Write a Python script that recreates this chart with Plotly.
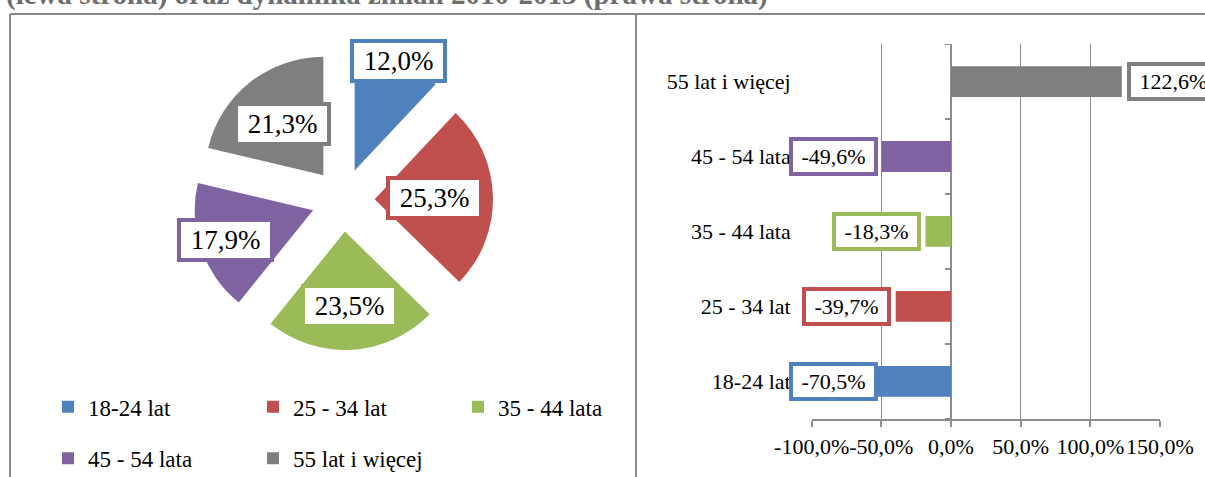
import math
import plotly.graph_objects as go

# dane
grupy = ['18-24 lat', '25 - 34 lat', '35 - 44 lata', '45 - 54 lata', '55 lat i więcej']
udzial = [12.0, 25.3, 23.5, 17.9, 21.3]          # struktura (lewa strona), %
zmiana = [-70.5, -39.7, -18.3, -49.6, 122.6]      # dynamika 2010-2013 (prawa strona), %
kolory = ['#4F81BD', '#C0504D', '#9BBB59', '#8064A2', '#7F7F7F']
x_ticks = [-100, -50, 0, 50, 100, 150]
x_tick_labels = ['-100,0%', '-50,0%', '0,0%', '50,0%', '100,0%', '150,0%']
tytul = '(lewa strona) oraz dynamika zmian 2010-2013 (prawa strona)'

W, H = 1205, 477
FONT = 'Liberation Serif'
GRID = '#8c8c8c'


def pct(v):
    return f'{v:.1f}'.replace('.', ',') + '%'


def px(x, y):
    # piksele -> wspolrzedne papieru
    return x / W, 1 - y / H


fig = go.Figure()

# --- kolo (lewa strona) ---
pull = 0.267
pie_x = (193, 493)
pie_y = (50, 350)
fig.add_trace(go.Pie(
    values=udzial, labels=grupy, sort=False, direction='clockwise', rotation=0,
    marker=dict(colors=kolory), pull=pull, textinfo='none', showlegend=False,
    domain=dict(x=[pie_x[0] / W, pie_x[1] / W], y=[1 - pie_y[1] / H, 1 - pie_y[0] / H]),
))

# etykiety kola liczone z katow wycinkow
cx, cy = (pie_x[0] + pie_x[1]) / 2, (pie_y[0] + pie_y[1]) / 2
R = (pie_x[1] - pie_x[0]) / 2 / (1 + pull)
label_r = [1.0, 0.51, 0.63, 0.78, 0.55]
annotations = []
cum = 0
tot = sum(udzial)
for v, c, k in zip(udzial, kolory, label_r):
    mid = (cum + v / 2) / tot * 2 * math.pi
    cum += v
    r = pull * R + k * R
    ax, ay = px(cx + r * math.sin(mid), cy - r * math.cos(mid))
    annotations.append(dict(
        x=ax, y=ay, xref='paper', yref='paper', xanchor='center', yanchor='middle',
        showarrow=False, text='\u00a0' + pct(v) + '\u00a0',
        font=dict(family=FONT, size=27, color='black'),
        bgcolor='white', bordercolor=c, borderwidth=4, borderpad=3,
    ))

# --- slupki (prawa strona) ---
fig.add_trace(go.Bar(
    x=zmiana, y=grupy, orientation='h', marker=dict(color=kolory, line=dict(width=0)),
    width=0.41, showlegend=False, xaxis='x', yaxis='y',
))

label_floor = -48.8
for v, g, c in zip(zmiana, grupy, kolory):
    neg = v < 0
    annotations.append(dict(
        x=max(v, label_floor) if neg else v, y=g, xref='x', yref='y',
        xanchor='right' if neg else 'left', yanchor='middle', xshift=-5 if neg else 5,
        showarrow=False, text='\u00a0' + pct(v) + '\u00a0',
        font=dict(family=FONT, size=22, color='black'),
        bgcolor='white', bordercolor=c, borderwidth=4, borderpad=3,
    ))

# legenda: dwa wiersze
for i, (g, c) in enumerate(zip(grupy, kolory)):
    fig.add_trace(go.Scatter(
        x=[None], y=[None], mode='markers', name=g,
        marker=dict(symbol='square', size=12, color=c),
        legend='legend' if i < 3 else 'legend2', xaxis='x', yaxis='y',
    ))

# tytul (uciety u gory)
annotations.append(dict(
    x=4 / W, y=1, xref='paper', yref='paper', xanchor='left', yanchor='bottom', yshift=-13,
    showarrow=False, text='<b>' + tytul + '</b>',
    font=dict(family=FONT, size=29, color='#6e6e6e'),
))

# ramki
shapes = [
    dict(type='line', xref='paper', yref='paper', x0=10 / W, x1=1, y0=1 - 14 / H, y1=1 - 14 / H,
         line=dict(color='#888888', width=2)),
    dict(type='line', xref='paper', yref='paper', x0=10 / W, x1=10 / W, y0=0, y1=1 - 14 / H,
         line=dict(color='#888888', width=2)),
    dict(type='line', xref='paper', yref='paper', x0=636 / W, x1=636 / W, y0=0, y1=1 - 14 / H,
         line=dict(color='#888888', width=2)),
]
# kreski podzialu kategorii na osi 0
for i in range(len(grupy) + 1):
    shapes.append(dict(type='line', xref='x', yref='y', xsizemode='pixel', xanchor=0,
                       x0=-6, x1=0, y0=i - 0.5, y1=i - 0.5, line=dict(color=GRID, width=2)))

leg = dict(orientation='h', xanchor='left', yanchor='middle', entrywidth=160,
           entrywidthmode='pixels', bgcolor='rgba(0,0,0,0)',
           font=dict(family=FONT, size=23, color='black'))

fig.update_layout(
    width=W, height=H, margin=dict(l=0, r=0, t=0, b=0, autoexpand=False),
    paper_bgcolor='white', plot_bgcolor='white',
    font=dict(family=FONT, size=22, color='black'),
    xaxis=dict(domain=[811.7 / W, 1160 / W], range=[-100, 150], tickvals=x_ticks,
               ticktext=x_tick_labels, tickangle=0, showgrid=True, gridcolor=GRID, gridwidth=1,
               zeroline=True, zerolinecolor=GRID, zerolinewidth=2,
               showline=True, linecolor=GRID, linewidth=2,
               ticks='outside', ticklen=6, tickwidth=2, tickcolor=GRID,
               ticklabelstandoff=1, tickfont=dict(size=22), fixedrange=True),
    yaxis=dict(domain=[1 - 419 / H, 1 - 44 / H], type='category', categoryorder='array',
               categoryarray=grupy, range=[-0.5, 4.5], showgrid=False, zeroline=False,
               showline=False, ticks='', ticklabelstandoff=20, tickfont=dict(size=22),
               fixedrange=True),
    legend=dict(leg, x=px(48, 0)[0], y=px(0, 406.7)[1]),
    legend2=dict(leg, x=px(48, 0)[0], y=px(0, 458.3)[1]),
    annotations=annotations,
    shapes=shapes,
    bargap=0.5,
)

fig.write_html('out.html', config={'displayModeBar': False},
               post_script="document.body.style.margin='0';")
